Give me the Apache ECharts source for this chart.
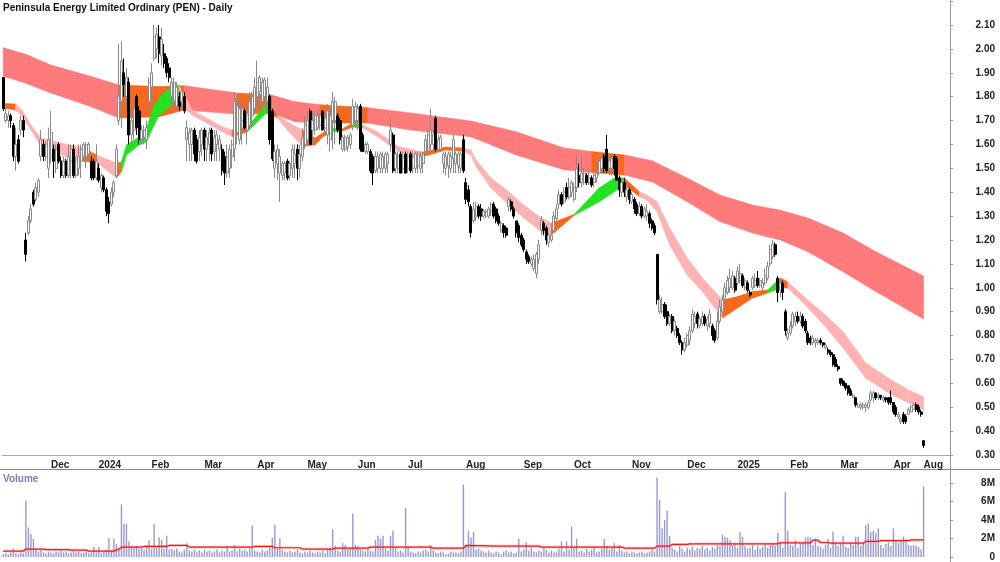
<!DOCTYPE html>
<html>
<head>
<meta charset="utf-8">
<script src="https://cdn.jsdelivr.net/npm/echarts@6/dist/echarts.min.js"></script>
<style>
  html, body { margin: 0; padding: 0; background: #fff; }
  #chart { width: 1000px; height: 562px; }
</style>
</head>
<body>
<div id="chart"></div>
<script>
// first trading bar of each month -> label
const monthStarts = [
  [19, 'Dec'], [38, '2024'], [59, 'Feb'], [80, 'Mar'], [101, 'Apr'], [121, 'May'],
  [141, 'Jun'], [161, 'Jul'], [184, 'Aug'], [207, 'Sep'], [227, 'Oct'], [250, 'Nov'],
  [272, 'Dec'], [292, '2025'], [313, 'Feb'], [333, 'Mar'], [354, 'Apr'], [366, 'Aug']
]
const slotCount = 377 // bars + empty space on the right

// daily bars [open, close, low, high]
const priceBars = [
  [1.88,1.75,1.74,1.88],[1.70,1.73,1.69,1.75],[1.70,1.72,1.67,1.74],[1.72,1.70,1.67,1.73],[1.68,1.55,1.53,1.69],
  [1.55,1.60,1.49,1.67],[1.62,1.53,1.52,1.64],[1.66,1.70,1.64,1.72],[1.70,1.66,1.63,1.72],[1.20,1.14,1.11,1.23],
  [1.23,1.28,1.22,1.30],[1.28,1.33,1.27,1.35],[1.40,1.35,1.34,1.41],[1.37,1.42,1.36,1.44],[1.40,1.45,1.38,1.46],
  [1.55,1.62,1.53,1.66],[1.60,1.55,1.53,1.62],[1.55,1.60,1.53,1.61],[1.50,1.62,1.46,1.67],[1.55,1.65,1.52,1.74],
  // Dec 2023
  [1.58,1.53,1.46,1.60],[1.50,1.58,1.48,1.60],[1.60,1.53,1.52,1.61],[1.53,1.47,1.46,1.55],[1.47,1.53,1.46,1.55],
  [1.53,1.47,1.46,1.54],[1.47,1.55,1.46,1.60],[1.53,1.58,1.46,1.60],[1.58,1.47,1.46,1.60],[1.47,1.53,1.46,1.55],
  [1.50,1.55,1.47,1.60],[1.53,1.58,1.46,1.60],[1.55,1.60,1.53,1.61],[1.55,1.60,1.50,1.61],[1.56,1.60,1.53,1.61],
  [1.53,1.46,1.45,1.55],[1.53,1.46,1.45,1.54],[1.46,1.53,1.45,1.60],
  // Jan 2024
  [1.50,1.45,1.44,1.52],[1.42,1.47,1.40,1.48],[1.46,1.41,1.40,1.47],[1.41,1.32,1.30,1.42],[1.36,1.31,1.27,1.38],
  [1.35,1.40,1.34,1.42],[1.40,1.44,1.38,1.45],[1.47,1.58,1.46,1.60],[1.70,1.80,1.68,2.02],[1.78,1.95,1.67,2.03],
  [1.90,1.85,1.80,1.96],[1.80,1.88,1.74,1.92],[1.86,1.64,1.60,1.88],[1.64,1.70,1.60,1.74],[1.66,1.75,1.62,1.80],
  [1.80,1.67,1.64,1.81],[1.74,1.62,1.60,1.76],[1.62,1.66,1.60,1.68],[1.63,1.66,1.60,1.68],[1.62,1.67,1.58,1.70],
  [1.78,1.86,1.74,1.88],
  // Feb
  [1.84,1.90,1.78,1.94],[1.96,2.05,1.95,2.10],[2.00,2.06,1.96,2.09],[2.05,1.98,1.94,2.10],[1.97,2.04,1.93,2.09],
  [1.98,1.94,1.92,2.02],[1.96,1.90,1.88,1.97],[1.92,1.88,1.86,1.94],[1.80,1.86,1.77,1.88],[1.78,1.86,1.74,1.88],
  [1.76,1.84,1.74,1.86],[1.80,1.76,1.74,1.82],[1.78,1.82,1.75,1.83],[1.80,1.74,1.73,1.82],[1.62,1.67,1.53,1.70],
  [1.60,1.65,1.53,1.67],[1.60,1.66,1.53,1.67],[1.66,1.56,1.53,1.67],[1.62,1.53,1.52,1.64],[1.57,1.63,1.53,1.66],
  [1.60,1.66,1.55,1.67],
  // Mar
  [1.66,1.58,1.53,1.67],[1.58,1.63,1.53,1.66],[1.60,1.65,1.53,1.67],[1.66,1.56,1.53,1.67],[1.57,1.63,1.53,1.66],
  [1.60,1.64,1.53,1.66],[1.58,1.62,1.53,1.64],[1.58,1.49,1.47,1.60],[1.55,1.48,1.43,1.57],[1.48,1.55,1.46,1.60],
  [1.50,1.58,1.46,1.60],[1.55,1.60,1.50,1.62],[1.58,1.78,1.53,1.82],[1.65,1.76,1.60,1.80],[1.62,1.75,1.60,1.80],
  [1.70,1.75,1.60,1.78],[1.74,1.67,1.66,1.75],[1.66,1.72,1.60,1.75],[1.68,1.78,1.66,1.82],[1.72,1.80,1.67,1.82],
  [1.75,1.84,1.74,1.88],
  // Apr
  [1.80,1.86,1.74,1.95],[1.82,1.88,1.76,1.89],[1.78,1.86,1.74,1.88],[1.80,1.87,1.76,1.88],[1.78,1.84,1.74,1.88],
  [1.80,1.62,1.60,1.81],[1.74,1.54,1.53,1.75],[1.50,1.57,1.46,1.60],[1.52,1.58,1.45,1.60],[1.48,1.55,1.36,1.58],
  [1.47,1.52,1.45,1.53],[1.48,1.52,1.45,1.53],[1.53,1.46,1.45,1.54],[1.47,1.52,1.45,1.53],[1.50,1.58,1.46,1.60],
  [1.52,1.56,1.46,1.60],[1.58,1.50,1.45,1.60],[1.50,1.56,1.46,1.60],[1.55,1.63,1.53,1.67],[1.60,1.68,1.58,1.72],
  // May
  [1.62,1.70,1.60,1.74],[1.74,1.60,1.60,1.75],[1.66,1.70,1.60,1.74],[1.66,1.72,1.64,1.74],[1.67,1.72,1.66,1.74],
  [1.68,1.72,1.66,1.73],[1.74,1.66,1.66,1.74],[1.67,1.71,1.65,1.73],[1.64,1.74,1.60,1.77],[1.62,1.72,1.57,1.76],
  [1.70,1.78,1.58,1.82],[1.70,1.78,1.60,1.80],[1.72,1.66,1.65,1.73],[1.70,1.62,1.60,1.71],[1.58,1.63,1.57,1.64],
  [1.58,1.63,1.57,1.64],[1.59,1.63,1.57,1.64],[1.60,1.64,1.58,1.65],[1.68,1.76,1.66,1.79],[1.70,1.76,1.67,1.78],
  // Jun
  [1.70,1.75,1.66,1.77],[1.76,1.58,1.57,1.77],[1.64,1.57,1.57,1.65],[1.57,1.60,1.56,1.61],[1.57,1.60,1.56,1.61],
  [1.57,1.49,1.48,1.58],[1.55,1.48,1.43,1.56],[1.49,1.55,1.48,1.57],[1.50,1.55,1.48,1.57],[1.50,1.56,1.48,1.57],
  [1.50,1.55,1.48,1.57],[1.50,1.56,1.48,1.57],[1.52,1.56,1.48,1.57],[1.60,1.66,1.57,1.71],[1.64,1.49,1.48,1.65],
  [1.50,1.56,1.48,1.57],[1.50,1.55,1.48,1.57],[1.56,1.48,1.48,1.57],[1.50,1.55,1.48,1.57],[1.56,1.48,1.48,1.57],
  // Jul
  [1.50,1.55,1.48,1.57],[1.56,1.49,1.48,1.57],[1.50,1.55,1.48,1.57],[1.50,1.56,1.48,1.57],[1.51,1.56,1.48,1.57],
  [1.50,1.55,1.48,1.57],[1.52,1.56,1.48,1.57],[1.57,1.62,1.56,1.64],[1.58,1.64,1.57,1.66],[1.60,1.66,1.57,1.75],
  [1.60,1.64,1.57,1.66],[1.71,1.58,1.57,1.72],[1.58,1.62,1.57,1.64],[1.58,1.63,1.57,1.64],[1.52,1.56,1.48,1.57],
  [1.50,1.55,1.47,1.57],[1.51,1.56,1.46,1.57],[1.50,1.55,1.48,1.57],[1.54,1.62,1.48,1.64],[1.52,1.56,1.48,1.57],
  [1.51,1.56,1.48,1.57],[1.50,1.56,1.48,1.57],[1.62,1.49,1.48,1.64],
  // Aug
  [1.44,1.37,1.35,1.46],[1.41,1.36,1.34,1.43],[1.34,1.23,1.21,1.35],[1.28,1.33,1.27,1.36],[1.30,1.34,1.28,1.36],
  [1.34,1.30,1.29,1.35],[1.33,1.30,1.28,1.35],[1.30,1.32,1.29,1.33],[1.30,1.32,1.29,1.33],[1.30,1.33,1.29,1.34],
  [1.32,1.35,1.30,1.36],[1.35,1.30,1.29,1.36],[1.33,1.28,1.27,1.34],[1.30,1.27,1.26,1.31],[1.24,1.27,1.23,1.28],
  [1.26,1.23,1.21,1.27],[1.25,1.22,1.21,1.26],[1.34,1.37,1.32,1.38],[1.36,1.33,1.32,1.37],[1.33,1.30,1.29,1.34],
  [1.28,1.23,1.21,1.28],[1.26,1.21,1.19,1.27],[1.22,1.18,1.17,1.23],
  // Sep
  [1.20,1.16,1.15,1.21],[1.15,1.12,1.10,1.16],[1.13,1.11,1.10,1.14],[1.10,1.12,1.09,1.13],[1.08,1.12,1.07,1.14],
  [1.06,1.14,1.04,1.15],[1.12,1.18,1.10,1.20],[1.24,1.28,1.22,1.30],[1.27,1.24,1.22,1.28],[1.25,1.20,1.18,1.26],
  [1.19,1.22,1.17,1.23],[1.20,1.22,1.19,1.25],[1.24,1.30,1.23,1.32],[1.29,1.33,1.28,1.35],[1.35,1.39,1.33,1.41],
  [1.39,1.35,1.34,1.40],[1.36,1.40,1.35,1.42],[1.42,1.38,1.37,1.44],[1.38,1.42,1.37,1.46],[1.40,1.44,1.38,1.45],
  // Oct
  [1.37,1.42,1.36,1.44],[1.42,1.50,1.40,1.55],[1.47,1.44,1.42,1.52],[1.44,1.48,1.42,1.55],[1.44,1.48,1.43,1.50],
  [1.47,1.44,1.43,1.48],[1.44,1.46,1.43,1.50],[1.46,1.43,1.42,1.47],[1.44,1.47,1.42,1.48],[1.46,1.48,1.44,1.50],
  [1.48,1.53,1.47,1.55],[1.50,1.54,1.48,1.56],[1.55,1.50,1.48,1.56],[1.58,1.49,1.48,1.64],[1.50,1.53,1.47,1.56],
  [1.50,1.54,1.47,1.55],[1.55,1.50,1.47,1.56],[1.54,1.45,1.45,1.55],[1.46,1.41,1.38,1.47],[1.40,1.44,1.38,1.46],
  [1.44,1.40,1.38,1.46],[1.38,1.41,1.36,1.42],[1.41,1.37,1.35,1.42],
  // Nov
  [1.36,1.39,1.35,1.40],[1.37,1.33,1.31,1.38],[1.35,1.31,1.30,1.36],[1.31,1.34,1.30,1.36],[1.34,1.30,1.29,1.35],
  [1.30,1.33,1.29,1.34],[1.30,1.32,1.28,1.35],[1.31,1.27,1.25,1.32],[1.28,1.25,1.24,1.29],[1.26,1.23,1.22,1.27],
  [1.14,0.95,0.93,1.14],[0.90,0.95,0.89,0.97],[0.90,0.93,0.89,0.96],[0.93,0.88,0.87,0.94],[0.90,0.85,0.84,0.93],
  [0.85,0.88,0.84,0.89],[0.88,0.82,0.81,0.89],[0.82,0.86,0.80,0.87],[0.83,0.80,0.79,0.84],[0.80,0.77,0.76,0.81],
  [0.77,0.74,0.72,0.78],[0.74,0.77,0.73,0.79],
  // Dec
  [0.76,0.80,0.75,0.81],[0.78,0.82,0.76,0.84],[0.82,0.89,0.81,0.91],[0.85,0.88,0.83,0.90],[0.89,0.85,0.83,0.90],
  [0.84,0.87,0.83,0.88],[0.85,0.88,0.84,0.90],[0.88,0.85,0.84,0.89],[0.84,0.87,0.82,0.88],[0.85,0.89,0.83,0.91],
  [0.84,0.80,0.78,0.85],[0.82,0.78,0.77,0.83],[0.79,0.86,0.78,0.90],[0.86,0.92,0.85,0.95],[0.90,0.95,0.89,0.97],
  [0.95,1.00,0.94,1.02],[0.98,1.03,0.97,1.05],[1.00,1.04,0.98,1.08],[1.00,1.05,0.99,1.07],[1.04,0.99,0.98,1.05],
  // Jan 2025
  [1.02,1.07,1.01,1.09],[1.03,1.06,1.02,1.10],[1.05,1.01,1.00,1.06],[1.00,1.03,0.99,1.04],[1.02,0.99,0.98,1.03],
  [0.98,0.97,0.96,0.99],[1.00,1.04,0.99,1.05],[1.01,1.03,1.00,1.06],[1.04,1.01,1.00,1.07],[1.01,1.03,1.00,1.04],
  [1.00,1.02,0.99,1.04],[1.02,1.05,1.01,1.08],[1.04,1.09,1.03,1.11],[1.10,1.16,1.09,1.18],[1.13,1.18,1.12,1.20],
  [1.18,1.14,1.13,1.19],[1.04,0.98,0.94,1.05],[0.99,1.02,0.96,1.04],[1.02,0.98,0.95,1.03],[0.90,0.82,0.80,0.91],
  [0.79,0.81,0.78,0.83],
  // Feb
  [0.81,0.84,0.80,0.86],[0.84,0.89,0.83,0.90],[0.86,0.88,0.84,0.90],[0.88,0.86,0.85,0.90],[0.86,0.88,0.85,0.90],
  [0.88,0.84,0.83,0.89],[0.86,0.82,0.81,0.87],[0.81,0.77,0.76,0.82],[0.79,0.77,0.76,0.80],[0.77,0.79,0.76,0.80],
  [0.77,0.78,0.75,0.79],[0.77,0.78,0.76,0.79],[0.78,0.77,0.76,0.79],[0.77,0.76,0.75,0.77],[0.75,0.76,0.74,0.77],
  [0.74,0.73,0.72,0.75],[0.73,0.72,0.71,0.74],[0.72,0.68,0.67,0.73],[0.70,0.67,0.67,0.71],[0.67,0.66,0.65,0.68],
  // Mar
  [0.62,0.60,0.59,0.62],[0.61,0.59,0.59,0.62],[0.60,0.58,0.57,0.60],[0.59,0.56,0.55,0.59],[0.57,0.55,0.55,0.58],
  [0.54,0.55,0.54,0.56],[0.54,0.51,0.50,0.54],[0.50,0.51,0.50,0.52],[0.50,0.51,0.49,0.52],[0.50,0.51,0.49,0.52],
  [0.50,0.51,0.48,0.52],[0.50,0.52,0.49,0.53],[0.53,0.56,0.52,0.57],[0.54,0.56,0.52,0.57],[0.56,0.54,0.53,0.56],
  [0.54,0.55,0.53,0.56],[0.55,0.54,0.53,0.55],[0.53,0.54,0.52,0.55],[0.54,0.53,0.52,0.54],[0.54,0.52,0.51,0.54],
  [0.54,0.52,0.51,0.57],
  // Apr
  [0.52,0.48,0.47,0.52],[0.50,0.47,0.46,0.51],[0.46,0.47,0.45,0.48],[0.44,0.45,0.43,0.46],[0.47,0.44,0.43,0.48],
  [0.46,0.44,0.43,0.47],[0.47,0.49,0.47,0.50],[0.48,0.50,0.48,0.51],[0.49,0.51,0.49,0.52],[0.51,0.49,0.48,0.52],
  [0.50,0.48,0.47,0.51],[0.48,0.47,0.46,0.49],
  // Aug
  [0.36,0.34,0.33,0.36]
]

// daily volume, millions
const volumes = [
  0.3,0.4,0.3,0.5,0.9,0.4,0.3,0.5,0.4,6.1, 3.2,2.5,1.96,0.9,0.6,0.8,0.5,0.4,0.6,0.5,
  0.4,0.6,0.5,0.7,0.5,0.6,0.4,0.5,0.7,0.5, 0.6,0.4,0.5,0.6,0.4,0.5,1.07,0.5,1.07,0.4,
  0.6,0.8,2.06,0.7,2.0,1.4,0.9,5.7,3.6,3.6, 1.7,1.2,1.0,1.2,0.9,1.0,0.8,1.1,1.8,0.9,
  3.6,1.0,2.14,1.86,0.9,2.3,0.8,0.9,0.7,0.9, 0.6,0.5,0.8,1.5,0.7,0.6,0.8,0.6,0.7,0.5,
  0.8,0.6,0.7,0.5,0.6,0.8,0.5,0.7,0.6,1.2, 0.6,0.7,1.3,0.6,0.9,0.7,0.8,0.6,0.9,3.4,
  0.7,0.6,0.5,0.8,0.6,0.7,1.0,2.1,3.5,0.9, 2.0,0.8,0.6,0.5,0.7,0.5,0.6,0.8,0.5,0.4,
  0.6,0.5,0.7,0.5,0.4,0.6,0.5,0.7,0.4,0.8, 1.0,3.0,1.2,0.7,0.6,1.5,1.3,0.8,0.9,4.7,
  1.3,1.2,0.8,0.7,0.6,0.9,0.7,0.6,1.85,2.3, 2.0,2.3,0.9,0.7,2.3,2.85,1.0,0.6,0.7,0.5,
  5.3,1.2,0.6,0.5,0.4,0.6,0.5,0.7,0.8,0.6, 1.3,0.7,0.5,0.4,0.6,0.5,0.3,0.4,0.6,0.5,
  0.5,0.4,0.6,7.85,1.2,2.85,2.1,2.7,0.8,0.9, 0.7,0.6,0.5,0.7,0.5,0.4,0.6,0.5,0.3,0.6,
  0.7,0.5,0.6,0.4,0.5,1.96,0.6,0.8,1.6,0.7, 1.0,0.6,0.5,0.7,0.6,1.0,0.8,0.5,0.7,0.5,
  0.6,0.9,1.7,0.6,1.7,0.8,3.3,1.0,1.96,0.6, 0.7,0.5,0.9,0.6,0.8,1.0,0.5,0.6,0.9,1.96,
  1.2,0.8,1.0,1.5,0.6,1.3,0.7,0.5,0.6,0.4, 0.6,0.5,0.4,0.5,0.6,0.4,0.5,0.6,0.8,0.6,
  8.6,6.2,3.1,4.0,5.0,2.3,1.0,0.8,0.6,1.2, 0.9,0.6,1.0,0.8,1.1,0.7,1.0,0.9,1.2,0.8,
  1.0,0.7,1.1,0.9,1.3,1.2,2.4,2.2,2.1,1.85, 1.3,1.4,1.0,2.7,2.2,1.2,0.9,1.0,1.3,0.8,
  1.2,0.9,1.1,1.4,1.0,1.3,1.5,1.2,2.6,1.6, 1.0,7.05,2.85,1.3,1.2,1.8,1.0,1.4,1.6,2.1,
  2.2,2.1,1.3,2.0,1.2,1.1,0.9,1.3,1.96,1.0, 2.75,1.6,1.2,1.4,2.3,1.1,1.0,1.5,1.3,2.2,
  2.2,1.2,1.5,3.45,3.6,2.7,2.85,2.6,3.1,1.3, 1.0,1.4,1.6,1.2,3.1,1.8,1.5,1.7,2.2,1.9,
  1.3,1.2,1.3,1.2,1.1,0.8,7.65
]

// volume average line, read at its steps
const volAvgIdx = [0, 8, 9, 16, 17, 26, 27, 33, 34, 44, 46, 47, 55, 56, 65, 66, 73, 74, 99, 100, 107, 108, 118, 119,
  131, 132, 145, 146, 170, 171, 183, 184, 197, 213, 214, 246, 247, 259, 260, 265, 266, 272, 273, 308, 309, 321,
  322, 324, 325, 328, 329, 342, 343, 348, 349, 360, 361, 366]
const volAvg = [0.64, 0.64, 0.86, 0.86, 0.8, 0.8, 0.75, 0.75, 0.64, 0.64, 0.86, 1.07, 1.07, 1.14, 1.14, 1.25, 1.25, 1.07, 1.07, 1.14, 1.14, 1.0, 1.0, 0.86,
  0.86, 0.96, 0.96, 1.07, 1.07, 0.96, 0.96, 1.25, 1.18, 1.18, 1.07, 1.07, 0.96, 0.96, 1.18, 1.18, 1.36, 1.36, 1.43, 1.43, 1.53, 1.53,
  1.82, 1.82, 1.57, 1.57, 1.5, 1.5, 1.7, 1.7, 1.78, 1.78, 1.85, 1.85]

// long-term ribbon edges (r = red, o = orange where the short ribbon runs into it)
const longIdx = [0, 9, 19, 35, 46, 62, 72, 93, 107, 116, 126, 145, 162, 186, 204, 223, 234, 247, 258, 272, 285, 298, 309, 320, 334, 347, 366]
const longTop = [2.005, 1.977, 1.932, 1.884, 1.849, 1.842, 1.846, 1.815, 1.806, 1.779, 1.766, 1.754, 1.732, 1.698, 1.653, 1.585, 1.570, 1.556, 1.532, 1.459, 1.388, 1.346, 1.325, 1.292, 1.229, 1.151, 1.049]
const longBot = [1.886, 1.856, 1.815, 1.758, 1.711, 1.716, 1.744, 1.727, 1.730, 1.695, 1.690, 1.690, 1.660, 1.632, 1.556, 1.494, 1.483, 1.472, 1.444, 1.360, 1.277, 1.229, 1.200, 1.151, 1.067, 0.984, 0.869]
const longCol = ['r', 'r', 'r', 'r', 'o', 'o', 'r', 'o', 'r', 'r', 'o', 'r', 'r', 'r', 'r', 'r', 'o', 'r', 'r', 'r', 'r', 'r', 'r', 'r', 'r', 'r', 'r']

// short-term ribbon edges (p = pink, g = green, o = orange)
const shortIdx = [0, 1, 5, 8, 11, 15, 23, 32, 37, 45, 47, 49, 54, 57, 60, 62, 64, 68, 70, 73, 75, 80, 87, 91, 97, 105, 109, 113, 119, 124, 127, 131, 134, 139, 143,
  149, 157, 163, 167, 176, 183, 186, 188, 194, 201, 207, 214, 218, 227, 237, 243, 247, 253, 256, 260, 265, 272, 278, 286, 292, 298, 304, 309, 312,
  319, 327, 334, 343, 352, 360, 366]
const shortTop = [1.773, 1.771, 1.769, 1.737, 1.681, 1.627, 1.606, 1.585, 1.556, 1.522, 1.526, 1.598, 1.631, 1.669, 1.765, 1.794, 1.819, 1.846, 1.846, 1.790, 1.744, 1.716, 1.674, 1.660, 1.673, 1.773, 1.723, 1.695, 1.660, 1.627, 1.648, 1.670, 1.660, 1.690, 1.681,
  1.652, 1.591, 1.577, 1.568, 1.589, 1.585, 1.577, 1.535, 1.459, 1.402, 1.346, 1.292, 1.271, 1.307, 1.418, 1.459, 1.459, 1.402, 1.388, 1.360, 1.250, 1.125, 1.041, 0.949, 0.963, 0.984, 0.991, 1.041, 1.025,
  0.957, 0.886, 0.816, 0.685, 0.622, 0.572, 0.544]
const shortBot = [1.752, 1.750, 1.744, 1.711, 1.660, 1.591, 1.556, 1.528, 1.526, 1.459, 1.485, 1.556, 1.598, 1.610, 1.681, 1.723, 1.736, 1.779, 1.794, 1.745, 1.723, 1.695, 1.653, 1.632, 1.652, 1.736, 1.711, 1.660, 1.591, 1.598, 1.631, 1.655, 1.652, 1.673, 1.669,
  1.631, 1.570, 1.549, 1.549, 1.577, 1.572, 1.556, 1.507, 1.418, 1.346, 1.292, 1.235, 1.221, 1.303, 1.360, 1.402, 1.430, 1.381, 1.367, 1.318, 1.179, 1.053, 0.984, 0.873, 0.915, 0.957, 0.978, 0.999, 0.999,
  0.928, 0.837, 0.748, 0.622, 0.560, 0.518, 0.488]
const shortCol = ['g', 'o', 'p', 'p', 'p', 'p', 'p', 'o', 'p', 'o', 'g', 'g', 'g', 'g', 'g', 'g', 'g', 'g', 'p', 'p', 'p', 'p', 'p', 'o', 'g', 'o', 'p', 'p', 'o', 'o', 'o', 'g', 'o', 'g', 'p',
  'p', 'p', 'p', 'o', 'o', 'p', 'p', 'p', 'p', 'p', 'p', 'p', 'o', 'g', 'g', 'g', 'o', 'p', 'p', 'p', 'p', 'p', 'p', 'o', 'o', 'o', 'g', 'o', 'p',
  'p', 'p', 'p', 'p', 'p', 'p', 'p']

const ribbonColors = { r: '#ff7a7a', o: '#f8681c', g: '#22e322', p: '#ffb2b2' }
const font = 'Liberation Sans, Arial, sans-serif'

const labelAt = {}
monthStarts.forEach(([i, name]) => { labelAt[i] = name })
const slots = Array.from({ length: slotCount }, (_, i) => String(i))
const isMonthStart = (i) => labelAt[i] !== undefined

// draws a filled ribbon, one quad between each pair of points
const ribbon = (idx, top, bot, col) => (params, api) => {
  const j = params.dataIndex
  if (j >= idx.length - 1) return null
  const c = ribbonColors[col[j]]
  return {
    type: 'polygon',
    shape: {
      points: [
        api.coord([idx[j], top[j]]),
        api.coord([idx[j + 1], top[j + 1]]),
        api.coord([idx[j + 1], bot[j + 1]]),
        api.coord([idx[j], bot[j]]),
      ],
    },
    style: { fill: c, stroke: c, lineWidth: 0.6 },
  }
}

const chart = echarts.init(document.getElementById('chart'), null, { renderer: 'canvas' })

const option = {
  animation: false,
  backgroundColor: '#fff',
  textStyle: { fontFamily: font },
  grid: [
    { left: 2, right: 50, top: 0, bottom: 107 },
    { left: 2, right: 50, top: 469, bottom: 4 },
  ],
  xAxis: [
    {
      type: 'category',
      gridIndex: 0,
      data: slots,
      boundaryGap: true,
      axisLine: { lineStyle: { color: '#aaa', width: 1 } },
      axisTick: { interval: isMonthStart, length: 3, lineStyle: { color: '#888' } },
      axisLabel: {
        interval: isMonthStart,
        formatter: (v, i) => labelAt[i] || '',
        align: 'left',
        margin: 5,
        color: '#222',
        fontWeight: 'bold',
        fontSize: 10,
        fontFamily: font,
        hideOverlap: false,
      },
      splitLine: { show: false },
    },
    {
      type: 'category',
      gridIndex: 1,
      data: slots,
      boundaryGap: true,
      axisLine: { show: false },
      axisTick: { show: false },
      axisLabel: { show: false },
      splitLine: { show: false },
    },
  ],
  yAxis: [
    {
      type: 'value',
      gridIndex: 0,
      position: 'right',
      min: 0.3,
      max: 2.2046,
      interval: 0.1,
      axisLine: { show: false },
      axisTick: { show: true, length: 3, lineStyle: { color: '#999' } },
      axisLabel: {
        align: 'right',
        margin: 45,
        color: '#222',
        fontWeight: 'bold',
        fontSize: 10,
        fontFamily: font,
        showMaxLabel: false,
        formatter: (v) => (v > 2.15 ? '' : v.toFixed(2)),
      },
      splitLine: { show: false },
    },
    {
      type: 'value',
      gridIndex: 1,
      position: 'right',
      min: 0,
      max: 9.53,
      interval: 2,
      axisLine: { show: false },
      axisTick: { show: true, length: 3, lineStyle: { color: '#999' } },
      axisLabel: {
        align: 'right',
        margin: 45,
        color: '#222',
        fontWeight: 'bold',
        fontSize: 10,
        fontFamily: font,
        showMaxLabel: false,
        formatter: (v) => (v > 8.5 ? '' : v === 0 ? '0' : v + 'M'),
      },
      splitLine: { show: false },
    },
  ],
  series: [
    {
      name: 'long ribbon',
      type: 'custom',
      xAxisIndex: 0,
      yAxisIndex: 0,
      z: 1,
      renderItem: ribbon(longIdx, longTop, longBot, longCol),
      encode: { x: 0, y: [1, 2] },
      data: longIdx.map((x, j) => [x, longTop[j], longBot[j]]),
      silent: true,
    },
    {
      name: 'short ribbon',
      type: 'custom',
      xAxisIndex: 0,
      yAxisIndex: 0,
      z: 2,
      renderItem: ribbon(shortIdx, shortTop, shortBot, shortCol),
      encode: { x: 0, y: [1, 2] },
      data: shortIdx.map((x, j) => [x, shortTop[j], shortBot[j]]),
      silent: true,
    },
    {
      name: 'PEN',
      type: 'candlestick',
      xAxisIndex: 0,
      yAxisIndex: 0,
      z: 3,
      barWidth: 2.5,
      data: priceBars,
      itemStyle: {
        color: '#ffffff',
        color0: '#000000',
        borderColor: '#8a8a8a',
        borderColor0: '#000000',
        borderWidth: 1,
      },
    },
    {
      name: 'Volume',
      type: 'bar',
      xAxisIndex: 1,
      yAxisIndex: 1,
      barWidth: 1.4,
      data: volumes,
      itemStyle: { color: '#9898d8' },
    },
    {
      name: 'Volume avg glow',
      type: 'line',
      xAxisIndex: 1,
      yAxisIndex: 1,
      symbol: 'none',
      data: volAvgIdx.map((x, j) => [x, volAvg[j]]),
      lineStyle: { color: 'rgba(255,120,120,0.35)', width: 3 },
      silent: true,
    },
    {
      name: 'Volume avg',
      type: 'line',
      xAxisIndex: 1,
      yAxisIndex: 1,
      symbol: 'none',
      data: volAvgIdx.map((x, j) => [x, volAvg[j]]),
      lineStyle: { color: '#f01818', width: 1.2 },
      silent: true,
    },
  ],
  graphic: [
    {
      type: 'text',
      left: 3,
      top: 3,
      style: { text: 'Peninsula Energy Limited Ordinary (PEN) - Daily', fill: '#111', font: 'bold 10px ' + font },
    },
    {
      type: 'text',
      left: 3,
      top: 474,
      style: { text: 'Volume', fill: '#7c7cc0', font: 'bold 10px ' + font },
    },
    {
      type: 'line',
      shape: { x1: 0, y1: 469.5, x2: 1000, y2: 469.5 },
      style: { stroke: '#888', lineWidth: 1 },
    },
    {
      type: 'line',
      shape: { x1: 950.5, y1: 0, x2: 950.5, y2: 562 },
      style: { stroke: '#999', lineWidth: 1 },
    },
  ],
}

chart.setOption(option)
</script>
</body>
</html>
